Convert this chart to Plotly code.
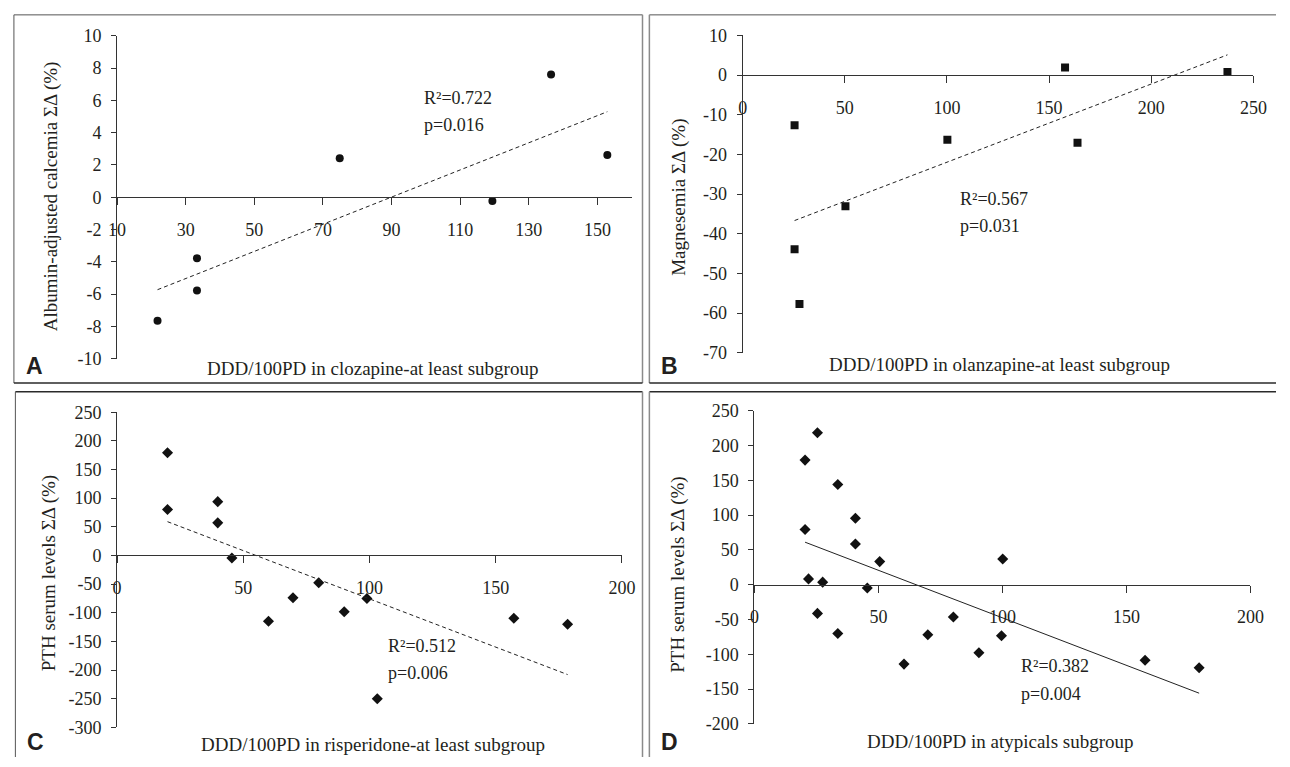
import numpy as np
import plotly.graph_objects as go

W, H = 1290, 767

# ---------------- data ----------------
a_x = [21.8, 33.3, 33.3, 74.9, 119.4, 136.5, 152.9]
a_y = [-7.65, -3.78, -5.77, 2.41, -0.24, 7.6, 2.62]

b_x = [25.4, 25.4, 27.8, 50.3, 100.2, 157.8, 163.9, 237.3]
b_y = [-12.65, -43.9, -57.7, -33.1, -16.3, 1.9, -17.1, 0.74]

c_x = [20.0, 20.0, 39.9, 39.9, 45.5, 60.0, 69.7, 79.9, 90.0, 99.0, 103.1, 157.2, 178.5]
c_y = [179.2, 80.2, 93.9, 56.9, -4.6, -114.9, -73.9, -47.8, -98.4, -75.1, -250.3, -109.8, -120.0]

d_x = [20.4, 20.4, 25.4, 21.8, 27.5, 25.4, 33.6, 33.6, 40.7, 40.7, 45.5, 50.5,
       60.3, 69.9, 80.2, 90.5, 99.6, 100.1, 157.5, 179.3]
d_y = [179.1, 79.5, 218.4, 8.4, 3.7, -41.2, 144.1, -70.2, 95.4, 58.5, -4.7, 33.2,
       -114.1, -72.0, -46.3, -97.8, -73.4, 37.0, -108.5, -119.3]

a_xticks = [10, 30, 50, 70, 90, 110, 130, 150]
a_yticks = [10, 8, 6, 4, 2, 0, -2, -4, -6, -8, -10]
b_xticks = [0, 50, 100, 150, 200, 250]
b_yticks = [10, 0, -10, -20, -30, -40, -50, -60, -70]
c_xticks = [0, 50, 100, 150, 200]
c_yticks = [250, 200, 150, 100, 50, 0, -50, -100, -150, -200, -250, -300]
d_xticks = [0, 50, 100, 150, 200]
d_yticks = [250, 200, 150, 100, 50, 0, -50, -100, -150, -200]

x_titles = ["DDD/100PD in clozapine-at least subgroup",
            "DDD/100PD in olanzapine-at least subgroup",
            "DDD/100PD in risperidone-at least subgroup",
            "DDD/100PD in atypicals subgroup"]
y_titles = ["Albumin-adjusted calcemia ΣΔ (%)",
            "Magnesemia ΣΔ (%)",
            "PTH serum levels ΣΔ (%)",
            "PTH serum levels ΣΔ (%)"]
stats = [("0.722", "0.016"), ("0.567", "0.031"), ("0.512", "0.006"), ("0.382", "0.004")]
letters = ["A", "B", "C", "D"]

# ---------------- layout helpers ----------------
def px(x):
    return x / W

def py(y):
    return 1 - y / H

SERIF = "Liberation Serif"
TXT = "#231f20"
TICK_SIZE = 18
TITLE_SIZE = 19
STAT_SIZE = 18

panels = [
    dict(x=a_x, y=a_y, xt=a_xticks, yt=a_yticks, xr=[10, 160], yr=[-10, 10],
         dom_x=[110, 634], dom_y=[358, 26.5], symbol="circle", size=8, dash="4px,3px"),
    dict(x=b_x, y=b_y, xt=b_xticks, yt=b_yticks, xr=[0, 250], yr=[-70, 10],
         dom_x=[747, 1267], dom_y=[352, 26], symbol="square", size=8, dash="4px,3px"),
    dict(x=c_x, y=c_y, xt=c_xticks, yt=c_yticks, xr=[0, 200], yr=[-300, 250],
         dom_x=[110, 624], dom_y=[736.5, 413], symbol="diamond", size=8.5, dash="4px,3px"),
    dict(x=d_x, y=d_y, xt=d_xticks, yt=d_yticks, xr=[0, 200], yr=[-200, 250],
         dom_x=[759, 1264], dom_y=[733, 411.5], symbol="diamond", size=8.5, dash="solid"),
]

# annotation positions (pixels)
xt_pos = [(370, 368), (1008, 364), (371, 754), (1009, 751)]
yt_pos = [(43, 191), (682, 192), (41, 578), (681, 580)]
r_pos = [(421, 90, 118), (966, 194, 222), (384, 653, 681), (1028, 674, 702)]
letter_pos = [(15, 366), (662, 366), (16, 752), (662, 752)]

fig = go.Figure()
annotations = []
for i, p in enumerate(panels):
    n = "" if i == 0 else str(i + 1)
    xa, ya = "x" + n, "y" + n
    fig.add_trace(go.Scatter(
        x=p["x"], y=p["y"], mode="markers", xaxis=xa, yaxis=ya,
        marker=dict(symbol=p["symbol"], size=p["size"], color="#111111",
                    line=dict(width=0)),
        showlegend=False, hoverinfo="x+y"))
    # least-squares trend line computed from the data
    k, b = np.polyfit(np.array(p["x"]), np.array(p["y"]), 1)
    lx = np.array([min(p["x"]), max(p["x"])])
    fig.add_trace(go.Scatter(
        x=lx, y=k * lx + b, mode="lines", xaxis=xa, yaxis=ya,
        line=dict(color="#222222", width=1, dash=p["dash"]),
        showlegend=False, hoverinfo="skip"))

    d0, d1 = py(p["dom_y"][0]), py(p["dom_y"][1])
    ymin, ymax = p["yr"]
    zero_pos = d0 + (0 - ymin) / (ymax - ymin) * (d1 - d0)
    xkey = "xaxis" + n
    ykey = "yaxis" + n
    fig.layout[xkey] = dict(
        domain=[px(p["dom_x"][0]), px(p["dom_x"][1])], range=p["xr"],
        anchor="free", position=zero_pos,
        tickvals=p["xt"], ticktext=[str(v) for v in p["xt"]],
        ticks="outside", ticklen=7, tickwidth=1, tickcolor="#333333",
        showline=True, linecolor="#333333", linewidth=1,
        showgrid=False, zeroline=False, ticklabelstandoff=9,
        tickfont=dict(family=SERIF, size=TICK_SIZE, color=TXT))
    fig.layout[ykey] = dict(
        domain=[d0, d1], range=p["yr"], anchor=xa,
        tickvals=p["yt"], ticktext=[str(v) for v in p["yt"]],
        ticks="outside", ticklen=5, tickwidth=1, tickcolor="#333333",
        showline=True, linecolor="#333333", linewidth=1,
        showgrid=False, zeroline=False, ticklabelstandoff=6,
        tickfont=dict(family=SERIF, size=TICK_SIZE, color=TXT))

    annotations.append(dict(text=x_titles[i], x=px(xt_pos[i][0]), y=py(xt_pos[i][1]),
                            xref="paper", yref="paper", showarrow=False,
                            xanchor="center", yanchor="middle",
                            font=dict(family=SERIF, size=TITLE_SIZE, color=TXT)))
    annotations.append(dict(text=y_titles[i], x=px(yt_pos[i][0]), y=py(yt_pos[i][1]),
                            xref="paper", yref="paper", showarrow=False, textangle=-90,
                            xanchor="center", yanchor="middle",
                            font=dict(family=SERIF, size=TITLE_SIZE, color=TXT)))
    rx, ry1, ry2 = r_pos[i]
    annotations.append(dict(text="R²=" + stats[i][0], x=px(rx), y=py(ry1),
                            xref="paper", yref="paper", showarrow=False,
                            xanchor="left", yanchor="middle",
                            font=dict(family=SERIF, size=STAT_SIZE, color=TXT)))
    annotations.append(dict(text="p=" + stats[i][1], x=px(rx), y=py(ry2),
                            xref="paper", yref="paper", showarrow=False,
                            xanchor="left", yanchor="middle",
                            font=dict(family=SERIF, size=STAT_SIZE, color=TXT)))
    lx_, ly_ = letter_pos[i]
    annotations.append(dict(text=letters[i], x=px(lx_), y=py(ly_),
                            xref="paper", yref="paper", showarrow=False,
                            xanchor="left", yanchor="middle",
                            font=dict(family="Liberation Sans", size=23, color=TXT,
                                      weight="bold")))

# panel frames
GRAY = "#8a8a8a"
DARK = "#2a2a2a"
shapes = []
def seg(x0, y0, x1, y1, color, w):
    shapes.append(dict(type="line", xref="paper", yref="paper",
                       x0=px(x0), y0=py(y0), x1=px(x1), y1=py(y1),
                       line=dict(color=color, width=w)))

# A
seg(5, 5, 645, 5, "#555555", 1)
seg(5, 5, 5, 383, "#555555", 1)
seg(645, 5, 645, 383, GRAY, 1.5)
seg(5, 383, 645, 383, DARK, 1.5)
# B
seg(652, 5, 1290, 5, "#555555", 1)
seg(652, 5, 652, 383, GRAY, 1.5)
seg(652, 383, 1290, 383, DARK, 1.5)
# C
seg(6.5, 392, 645, 392, DARK, 1.5)
seg(6.5, 392, 6.5, 767, "#555555", 1)
seg(645, 392, 645, 767, GRAY, 1.5)
# D
seg(652, 392, 1290, 392, DARK, 1.5)
seg(652, 392, 652, 767, GRAY, 1.5)

fig.update_layout(
    width=W, height=H,
    margin=dict(l=0, r=0, t=0, b=0),
    paper_bgcolor="white", plot_bgcolor="rgba(0,0,0,0)",
    annotations=annotations, shapes=shapes,
    showlegend=False,
)

fig.write_html("out.html",
               config={"displayModeBar": False},
               post_script="document.body.style.margin='0px';"
                           "document.body.style.overflow='hidden';")
